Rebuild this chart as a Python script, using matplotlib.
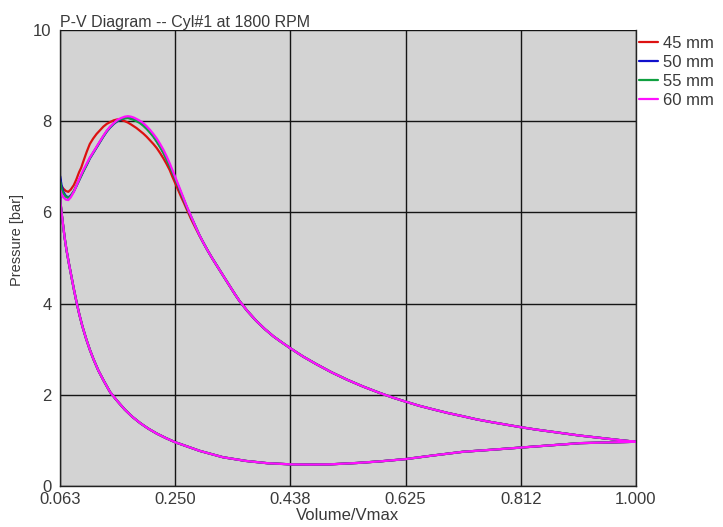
import matplotlib
matplotlib.use("Agg")
import matplotlib.pyplot as plt

plt.rcParams['font.family'] = ['Liberation Sans', 'DejaVu Sans']

# Compression branch (BDC back towards TDC), shared by all cases
vol_comp = [1.000, 0.955, 0.909, 0.860, 0.8125, 0.765, 0.718, 0.670, 0.625, 0.583,
            0.546, 0.502, 0.470, 0.4375, 0.400, 0.365, 0.328, 0.290, 0.250, 0.235,
            0.220, 0.206, 0.193, 0.180, 0.168, 0.156, 0.144, 0.134, 0.125, 0.117,
            0.111, 0.105, 0.099, 0.094, 0.0896, 0.085, 0.081, 0.077, 0.073, 0.070,
            0.0675, 0.065, 0.0635]
p_comp = [0.97, 0.955, 0.94, 0.89, 0.84, 0.795, 0.75, 0.67, 0.59, 0.54,
          0.505, 0.475, 0.47, 0.475, 0.50, 0.55, 0.63, 0.77, 0.96, 1.05,
          1.15, 1.26, 1.38, 1.52, 1.675, 1.86, 2.06, 2.30, 2.53, 2.78,
          2.99, 3.23, 3.50, 3.76, 4.02, 4.32, 4.60, 4.88, 5.18, 5.45,
          5.72, 6.00, 6.20]

# Combustion branch near TDC, where the cases differ
vol_comb = [0.0625, 0.065, 0.068, 0.072, 0.076, 0.080, 0.085, 0.089, 0.0935, 0.097,
            0.1005, 0.106, 0.111, 0.1165, 0.122, 0.1275, 0.133, 0.1385, 0.144, 0.150,
            0.156, 0.162, 0.168, 0.173, 0.178, 0.1825, 0.187, 0.1925, 0.198, 0.2035,
            0.209, 0.2145, 0.220, 0.2255, 0.231, 0.236, 0.241, 0.2455, 0.250, 0.255,
            0.260, 0.2645, 0.269, 0.276, 0.283, 0.2895, 0.296]
p_comb_45 = [6.62, 6.58, 6.52, 6.47, 6.45, 6.50, 6.60, 6.72, 6.88, 6.98,
             7.12, 7.33, 7.50, 7.62, 7.72, 7.80, 7.88, 7.94, 7.98, 8.02,
             8.04, 8.03, 8.00, 7.97, 7.93, 7.89, 7.85, 7.79, 7.73, 7.66,
             7.58, 7.50, 7.41, 7.30, 7.18, 7.06, 6.93, 6.78, 6.64, 6.48,
             6.33, 6.20, 6.06, 5.85, 5.66, 5.49, 5.33]
p_comb_50 = [6.80, 6.60, 6.45, 6.36, 6.33, 6.37, 6.46, 6.57, 6.70, 6.80,
             6.90, 7.04, 7.18, 7.30, 7.42, 7.54, 7.66, 7.77, 7.86, 7.94,
             8.00, 8.04, 8.07, 8.08, 8.07, 8.05, 8.02, 7.98, 7.92, 7.85,
             7.76, 7.67, 7.56, 7.44, 7.31, 7.17, 7.03, 6.89, 6.74, 6.57,
             6.41, 6.26, 6.11, 5.90, 5.69, 5.50, 5.33]
p_comb_55 = [6.68, 6.52, 6.41, 6.34, 6.32, 6.36, 6.47, 6.58, 6.70, 6.80,
             6.90, 7.05, 7.19, 7.31, 7.43, 7.55, 7.67, 7.78, 7.87, 7.95,
             8.01, 8.05, 8.06, 8.07, 8.05, 8.03, 8.00, 7.96, 7.90, 7.83,
             7.75, 7.66, 7.55, 7.43, 7.30, 7.16, 7.02, 6.88, 6.74, 6.57,
             6.41, 6.26, 6.11, 5.90, 5.69, 5.50, 5.33]
p_comb_60 = [6.50, 6.40, 6.33, 6.28, 6.27, 6.33, 6.45, 6.58, 6.72, 6.83,
             6.93, 7.07, 7.20, 7.32, 7.44, 7.56, 7.68, 7.79, 7.88, 7.96,
             8.03, 8.07, 8.10, 8.11, 8.10, 8.08, 8.05, 8.01, 7.96, 7.89,
             7.81, 7.72, 7.62, 7.50, 7.37, 7.23, 7.08, 6.93, 6.78, 6.61,
             6.44, 6.29, 6.13, 5.91, 5.69, 5.50, 5.33]

# Expansion branch out to BDC, shared by all cases
vol_exp = [0.303, 0.310, 0.3165, 0.323, 0.331, 0.340, 0.3475, 0.355, 0.368, 0.382,
           0.396, 0.410, 0.4235, 0.4375, 0.458, 0.480, 0.505, 0.530, 0.556, 0.583,
           0.604, 0.625, 0.647, 0.670, 0.694, 0.718, 0.741, 0.765, 0.789, 0.8125,
           0.836, 0.860, 0.884, 0.909, 0.932, 0.955, 0.978, 1.000]
p_exp = [5.16, 5.00, 4.86, 4.72, 4.55, 4.36, 4.20, 4.05, 3.83, 3.62,
         3.44, 3.28, 3.15, 3.02, 2.84, 2.67, 2.49, 2.33, 2.18, 2.04,
         1.94, 1.85, 1.76, 1.68, 1.60, 1.53, 1.46, 1.40, 1.345, 1.29,
         1.24, 1.195, 1.15, 1.105, 1.07, 1.035, 1.00, 0.97]

labels = ["45 mm", "50 mm", "55 mm", "60 mm"]
colors = ["#dd1111", "#1010cc", "#10a040", "#ff10ff"]
combustion = [p_comb_45, p_comb_50, p_comb_55, p_comb_60]

xticks = [0.0625, 0.25, 0.4375, 0.625, 0.8125, 1.0]
xticklabels = ["0.063", "0.250", "0.438", "0.625", "0.812", "1.000"]
yticks = [0, 2, 4, 6, 8, 10]

text_col = "#3a3a3a"

fig = plt.figure(figsize=(7.23, 5.27), dpi=100)
ax = fig.add_axes([60 / 723, 41 / 527, 576 / 723, 456 / 527])
ax.set_facecolor("#d3d3d3")

for lab, col, pc in zip(labels, colors, combustion):
    vol = vol_comp + vol_comb + vol_exp
    pres = p_comp + pc + p_exp
    ax.plot(vol, pres, color=col, lw=1.6, label=lab,
            solid_joinstyle="round", solid_capstyle="round")

ax.set_xlim(0.0625, 1.0)
ax.set_ylim(0, 10)
ax.set_xticks(xticks)
ax.set_xticklabels(xticklabels)
ax.set_yticks(yticks)
ax.grid(True, color="#151515", lw=1.0)
ax.set_axisbelow(True)
ax.tick_params(length=0, labelsize=12, colors=text_col)
ax.tick_params(axis="x", pad=4)
ax.tick_params(axis="y", pad=6)

for side in ("left", "bottom", "right"):
    ax.spines[side].set_color("#222222")
    ax.spines[side].set_linewidth(1.0)
ax.spines["top"].set_visible(False)

ax.set_xlabel("Volume/Vmax", fontsize=12, color=text_col, labelpad=1)
ax.set_ylabel("Pressure [bar]", fontsize=10.5, color=text_col)
ax.yaxis.set_label_coords(-0.062, 0.54)
ax.set_title("P-V Diagram -- Cyl#1 at 1800 RPM", loc="left", fontsize=11.5,
             color=text_col, pad=2)

leg = ax.legend(loc="upper left", bbox_to_anchor=(639 / 723, 1 - 36 / 527),
                bbox_transform=fig.transFigure, frameon=False,
                fontsize=12, handlelength=1.15, handletextpad=0.3,
                labelspacing=0.24, borderaxespad=0.0, borderpad=0.0)
for txt in leg.get_texts():
    txt.set_color(text_col)

fig.savefig("out.png", dpi=100)
